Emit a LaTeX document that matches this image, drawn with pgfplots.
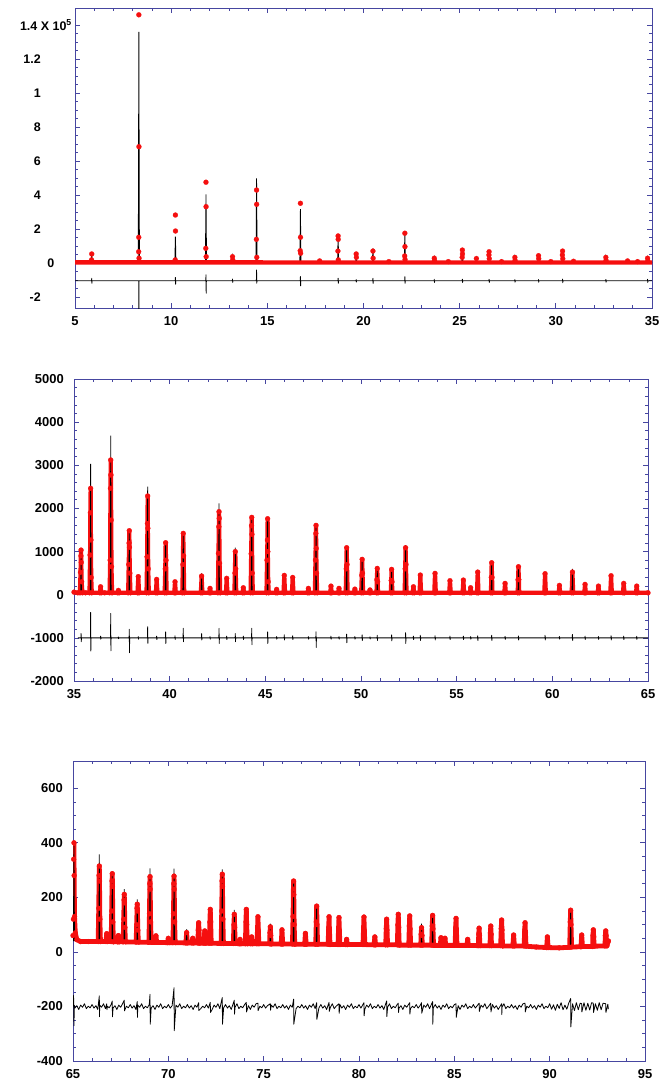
\documentclass[border=0pt]{standalone}
\usepackage{pgfplots}
\pgfplotsset{compat=1.18}
\usepackage{fontspec}
\setmainfont{Liberation Sans}
\definecolor{axblue}{RGB}{70,70,160}
\definecolor{obsred}{RGB}{245,15,15}
\pgfplotsset{
  rv/.style={
    scale only axis, anchor=south west,
    axis line style={axblue, line width=0.8bp},
    tick align=inside, major tick length=5bp, minor tick length=3bp,
    every tick/.style={axblue, line width=0.7bp},
    minor x tick num=4,
    tick label style={font=\fontsize{13}{13}\selectfont\bfseries},
    xticklabel style={anchor=north, inner sep=0pt, yshift=-8bp},
    yticklabel style={anchor=east, inner sep=0pt, xshift=-10bp},
    unbounded coords=jump,
  },
  obs/.style={obsred, line width=#1, line join=round, line cap=round, mark=*, mark size=2.5bp,
    mark options={fill=obsred, draw=obsred, line width=0.2bp}},
  calc/.style={black, line width=0.8bp},
  diff/.style={black, line width=0.8bp, line join=round},
}
\begin{document}
\begin{tikzpicture}
\useasboundingbox (0,0) rectangle (670bp,-1088bp);
% ---------------- Panel 1 : 5-35 ----------------
\begin{axis}[rv, at={(75bp,-308bp)}, width=577bp, height=300bp,
  xmin=5, xmax=35, ymin=-26500, ymax=150000,
  xtick={5,10,...,35}, xticklabels={5,10,15,20,25,30,35},
  ytick={-20000,0,20000,40000,60000,80000,100000,120000,140000},
  yticklabels={-2,0\hspace*{-21bp},2,4,6,8,1,1.2,{1.4 X 10\textsuperscript{5}\hspace*{-31bp}}},
  yticklabel style={xshift=-24bp, font=\fontsize{12.5}{12.5}\selectfont\bfseries},
  minor y tick num=3]
% calculated
\addplot[calc] coordinates {(5,300)(5.84,300)(5.87,5000)(5.90,300)(8.29,300)(8.32,136000)(8.35,300)(10.19,300)(10.22,15500)(10.25,300)(11.78,300)(11.81,40400)(11.84,300)(13.16,300)(13.19,3500)(13.22,300)(14.41,300)(14.44,49800)(14.47,300)(16.69,300)(16.72,31600)(16.75,300)(17.69,300)(17.72,1200)(17.75,300)(18.65,300)(18.68,16000)(18.71,300)(19.59,300)(19.62,5000)(19.65,300)(20.46,300)(20.49,8600)(20.52,300)(22.12,300)(22.15,18400)(22.18,300)(23.65,300)(23.68,2800)(23.71,300)(25.11,300)(25.14,8000)(25.17,300)(25.84,300)(25.87,2600)(25.90,300)(26.50,300)(26.53,6800)(26.56,300)(27.84,300)(27.87,3300)(27.90,300)(29.07,300)(29.10,4300)(29.13,300)(30.32,300)(30.35,7200)(30.38,300)(32.57,300)(32.60,3300)(32.63,300)(33.70,300)(33.73,1200)(33.76,300)(34.74,300)(34.77,2800)(34.80,300)(35,300)};
% observed background
\addplot[obsred, line width=4.4bp] coordinates {(5.0,350)(10,320)(15,300)(20,300)(25,280)(30,280)(35,270)};
% observed peak points
\addplot[only marks, mark=*, mark size=2.5bp, mark options={fill=obsred, draw=obsred, line width=0.2bp}] coordinates {
(5.86,1800)(5.87,5300)
(8.31,6600)(8.315,15100)(8.32,146000)(8.325,68400)(8.33,2800)
(10.21,1800)(10.22,28200)(10.225,18800)
(11.80,8600)(11.81,47500)(11.815,33100)(11.82,3700)
(13.19,3700)(13.20,1800)
(14.43,13900)(14.44,42900)(14.445,34500)(14.45,3300)
(16.71,7200)(16.72,35100)(16.725,15100)(16.73,5700)
(17.72,1200)
(18.67,7000)(18.68,15900)(18.685,13900)(18.69,1800)
(19.62,5300)(19.63,3300)
(20.49,7000)(20.50,2800)
(21.32,800)
(22.14,4100)(22.15,17500)(22.155,9600)(22.16,2000)
(23.68,2800)(23.69,1500)
(24.41,800)
(25.13,3300)(25.14,7600)(25.145,5300)
(25.87,2600)
(26.52,4700)(26.53,6600)(26.54,2500)
(27.18,800)
(27.87,3300)(27.88,1500)
(29.10,4300)(29.11,2500)
(29.74,800)
(30.34,4700)(30.35,7000)(30.36,2500)
(30.92,1000)
(32.60,3300)(32.61,1500)
(33.73,1200)
(34.25,800)
(34.77,2800)(34.78,1200)};
% difference
\addplot[diff] coordinates {(5,-10500)
(5.86,-10500)(5.87,-9000)(5.88,-12000)(5.89,-10500)
(8.31,-10500)(8.32,-32000)(8.33,-10500)
(10.21,-10500)(10.22,-8500)(10.23,-12500)(10.24,-10500)
(11.80,-10500)(11.81,-7000)(11.82,-17800)(11.83,-10500)
(13.18,-10500)(13.19,-9500)(13.20,-11500)(13.21,-10500)
(14.43,-10500)(14.44,-4100)(14.45,-11900)(14.46,-10500)
(16.71,-10500)(16.72,-8000)(16.73,-13500)(16.74,-10500)
(18.67,-10500)(18.68,-9000)(18.69,-12000)(18.70,-10500)
(19.61,-10500)(19.62,-9800)(19.63,-11200)(19.64,-10500)
(20.48,-10500)(20.49,-9000)(20.50,-12000)(20.51,-10500)
(22.14,-10500)(22.15,-8100)(22.16,-12000)(22.17,-10500)
(23.67,-10500)(23.68,-9600)(23.69,-11500)(23.70,-10500)
(25.13,-10500)(25.14,-9600)(25.15,-11500)(25.16,-10500)
(26.52,-10500)(26.53,-9600)(26.54,-11500)(26.55,-10500)
(27.86,-10500)(27.87,-9800)(27.88,-11300)(27.89,-10500)
(29.09,-10500)(29.10,-9700)(29.11,-11400)(29.12,-10500)
(30.34,-10500)(30.35,-9500)(30.36,-11600)(30.37,-10500)
(32.59,-10500)(32.60,-9700)(32.61,-11400)(32.62,-10500)
(34.76,-10500)(34.77,-9600)(34.78,-11500)(34.79,-10500)(35,-10500)};
\end{axis}
% ---------------- Panel 2 : 35-65 ----------------
\begin{axis}[rv, at={(74bp,-681bp)}, width=574bp, height=302bp,
  xmin=35, xmax=65, ymin=-2000, ymax=5000,
  xtick={35,40,...,65}, xticklabels={35,40,45,50,55,60,65},
  ytick={-2000,-1000,...,5000},
  yticklabels={-2000,-1000,0,1000,2000,3000,4000,5000},
  minor y tick num=4]
\addplot[obs=4.2bp] coordinates {
(35.00,60)(35.2,45)
(35.31,45)(35.34,520)(35.36,900)(35.37,1035)(35.38,750)(35.40,300)(35.44,45)(35.6,45)
(35.81,45)(35.84,920)(35.855,1900)(35.87,2466)(35.885,1270)(35.90,400)(35.93,45)
(36.35,45)(36.39,185)(36.43,45)(36.6,45)
(36.86,45)(36.89,800)(36.905,2466)(36.92,3123)(36.93,2775)(36.945,1730)(36.96,650)(36.99,45)
(37.28,45)(37.32,100)(37.36,45)
(37.83,45)(37.86,700)(37.88,1200)(37.89,1484)(37.90,1100)(37.92,500)(37.95,45)
(38.32,45)(38.36,420)(38.40,45)
(38.79,45)(38.82,880)(38.84,1650)(38.85,2288)(38.86,1540)(38.88,600)(38.91,45)
(39.28,45)(39.32,356)(39.36,45)
(39.74,45)(39.77,600)(39.79,1206)(39.81,800)(39.84,45)
(40.24,45)(40.28,300)(40.32,45)
(40.66,45)(40.69,700)(40.71,1422)(40.73,900)(40.76,45)
(41.63,45)(41.67,433)(41.71,45)
(42.07,45)(42.11,147)(42.15,45)
(42.52,45)(42.55,960)(42.57,1577)(42.58,1925)(42.59,1770)(42.61,730)(42.64,45)
(42.94,45)(42.98,380)(43.02,45)
(43.38,45)(43.41,500)(43.43,1000)(43.45,600)(43.48,45)
(43.81,45)(43.85,162)(43.89,45)
(44.23,45)(44.26,950)(44.28,1600)(44.29,1793)(44.30,1400)(44.32,500)(44.35,45)
(45.06,45)(45.09,800)(45.11,1268)(45.12,1762)(45.13,1000)(45.15,300)(45.18,45)
(45.55,45)(45.59,124)(45.63,45)
(45.95,45)(45.99,448)(46.03,45)
(46.39,45)(46.43,400)(46.47,45)
(47.21,45)(47.25,147)(47.29,45)
(47.59,45)(47.62,804)(47.64,1422)(47.65,1608)(47.66,1075)(47.68,500)(47.71,45)
(48.39,45)(48.43,200)(48.47,45)
(48.81,45)(48.85,147)(48.89,45)
(49.20,45)(49.23,600)(49.25,1090)(49.27,700)(49.30,45)
(49.64,45)(49.68,130)(49.72,45)
(50.01,45)(50.04,450)(50.06,820)(50.08,500)(50.11,45)
(50.43,45)(50.47,110)(50.51,45)
(50.81,45)(50.83,350)(50.85,610)(50.87,300)(50.89,45)
(51.56,45)(51.58,330)(51.60,588)(51.62,300)(51.64,45)
(52.28,45)(52.31,600)(52.33,1090)(52.35,700)(52.38,45)
(52.70,45)(52.74,185)(52.78,45)
(53.06,45)(53.10,456)(53.14,45)
(53.83,45)(53.87,495)(53.91,45)
(54.61,45)(54.65,325)(54.69,45)
(55.31,45)(55.35,340)(55.39,45)
(55.69,45)(55.73,162)(55.77,45)
(56.06,45)(56.10,525)(56.14,45)
(56.79,45)(56.81,400)(56.83,742)(56.85,400)(56.87,45)
(57.49,45)(57.53,263)(57.57,45)
(58.19,45)(58.21,350)(58.23,650)(58.25,350)(58.27,45)
(59.58,45)(59.62,487)(59.66,45)
(60.33,45)(60.37,216)(60.41,45)
(61.01,45)(61.05,525)(61.09,45)
(61.67,45)(61.71,240)(61.75,45)
(62.37,45)(62.41,200)(62.45,45)
(63.03,45)(63.07,440)(63.11,45)
(63.69,45)(63.73,263)(63.77,45)
(64.37,45)(64.41,200)(64.45,45)(65.0,45)};
\addplot[calc] coordinates {
(35.35,45)(35.37,1000)(35.39,45)(35.39,nan)
(35.85,45)(35.87,3030)(35.89,45)(35.89,nan)
(36.90,45)(36.92,3687)(36.94,45)(36.94,nan)
(37.87,45)(37.89,1480)(37.91,45)(37.91,nan)
(38.83,45)(38.85,2505)(38.87,45)(38.87,nan)
(39.77,45)(39.79,1180)(39.81,45)(39.81,nan)
(40.69,45)(40.71,1430)(40.73,45)(40.73,nan)
(41.65,45)(41.67,495)(41.69,45)(41.69,nan)
(42.56,45)(42.58,2118)(42.60,45)(42.60,nan)
(43.41,45)(43.43,1090)(43.45,45)(43.45,nan)
(44.27,45)(44.29,1800)(44.31,45)(44.31,nan)
(45.10,45)(45.12,1780)(45.14,45)(45.14,nan)
(47.63,45)(47.65,1600)(47.67,45)(47.67,nan)
(49.23,45)(49.25,1100)(49.27,45)(49.27,nan)
(50.04,45)(50.06,830)(50.08,45)(50.08,nan)
(50.83,45)(50.85,620)(50.87,45)(50.87,nan)
(51.58,45)(51.60,600)(51.62,45)(51.62,nan)
(52.31,45)(52.33,1150)(52.35,45)(52.35,nan)
(56.81,45)(56.83,740)(56.85,45)(56.85,nan)
(58.21,45)(58.23,650)(58.25,45)(58.25,nan)
(61.03,45)(61.05,600)(61.07,45)};
\addplot[diff] coordinates {(35.2,-1000)
(35.36,-1000)(35.37,-897)(35.38,-1090)(35.39,-1000)
(35.86,-1000)(35.87,-410)(35.88,-1306)(35.89,-1000)
(36.38,-1000)(36.39,-960)(36.40,-1030)(36.41,-1000)
(36.91,-1000)(36.92,-433)(36.93,-1300)(36.94,-1000)
(37.31,-1000)(37.32,-980)(37.33,-1020)(37.34,-1000)
(37.88,-1000)(37.89,-800)(37.90,-1345)(37.91,-1000)
(38.35,-1000)(38.36,-970)(38.37,-1030)(38.38,-1000)
(38.84,-1000)(38.85,-742)(38.86,-1125)(38.87,-1000)
(39.31,-1000)(39.32,-960)(39.33,-1040)(39.34,-1000)
(39.78,-1000)(39.79,-860)(39.80,-1130)(39.81,-1000)
(40.27,-1000)(40.28,-950)(40.29,-1040)(40.30,-1000)
(40.70,-1000)(40.71,-780)(40.72,-1090)(40.73,-1000)
(41.66,-1000)(41.67,-900)(41.68,-1050)(41.69,-1000)
(42.10,-1000)(42.11,-970)(42.12,-1030)(42.13,-1000)
(42.57,-1000)(42.58,-780)(42.59,-1130)(42.60,-1000)
(42.97,-1000)(42.98,-960)(42.99,-1040)(43.00,-1000)
(43.42,-1000)(43.43,-900)(43.44,-1090)(43.45,-1000)
(43.84,-1000)(43.85,-960)(43.86,-1040)(43.87,-1000)
(44.28,-1000)(44.29,-780)(44.30,-1160)(44.31,-1000)
(45.11,-1000)(45.12,-860)(45.13,-1130)(45.14,-1000)
(45.58,-1000)(45.59,-970)(45.60,-1030)(45.61,-1000)
(45.98,-1000)(45.99,-930)(46.00,-1050)(46.01,-1000)
(46.42,-1000)(46.43,-950)(46.44,-1040)(46.45,-1000)
(47.24,-1000)(47.25,-970)(47.26,-1030)(47.27,-1000)
(47.64,-1000)(47.65,-858)(47.66,-1221)(47.67,-1000)
(48.42,-1000)(48.43,-960)(48.44,-1030)(48.45,-1000)
(48.84,-1000)(48.85,-970)(48.86,-1030)(48.87,-1000)
(49.24,-1000)(49.25,-912)(49.26,-1113)(49.27,-1000)
(49.67,-1000)(49.68,-970)(49.69,-1030)(49.70,-1000)
(50.05,-1000)(50.06,-930)(50.07,-1060)(50.08,-1000)
(50.46,-1000)(50.47,-975)(50.48,-1025)(50.49,-1000)
(50.84,-1000)(50.85,-940)(50.86,-1060)(50.87,-1000)
(51.59,-1000)(51.60,-930)(51.61,-1070)(51.62,-1000)
(52.32,-1000)(52.33,-880)(52.34,-1130)(52.35,-1000)
(52.73,-1000)(52.74,-960)(52.75,-1040)(52.76,-1000)
(53.09,-1000)(53.10,-940)(53.11,-1060)(53.12,-1000)
(53.86,-1000)(53.87,-950)(53.88,-1050)(53.89,-1000)
(54.64,-1000)(54.65,-960)(54.66,-1040)(54.67,-1000)
(55.34,-1000)(55.35,-960)(55.36,-1040)(55.37,-1000)
(55.72,-1000)(55.73,-970)(55.74,-1030)(55.75,-1000)
(56.09,-1000)(56.10,-950)(56.11,-1060)(56.12,-1000)
(56.82,-1000)(56.83,-940)(56.84,-1060)(56.85,-1000)
(57.52,-1000)(57.53,-965)(57.54,-1035)(57.55,-1000)
(58.22,-1000)(58.23,-955)(58.24,-1050)(58.25,-1000)
(59.61,-1000)(59.62,-940)(59.63,-1050)(59.64,-1000)
(60.36,-1000)(60.37,-970)(60.38,-1030)(60.39,-1000)
(61.04,-1000)(61.05,-920)(61.06,-1060)(61.07,-1000)
(61.70,-1000)(61.71,-960)(61.72,-1040)(61.73,-1000)
(62.40,-1000)(62.41,-970)(62.42,-1035)(62.43,-1000)
(63.06,-1000)(63.07,-950)(63.08,-1050)(63.09,-1000)
(63.72,-1000)(63.73,-960)(63.74,-1040)(63.75,-1000)
(64.40,-1000)(64.41,-965)(64.42,-1035)(64.43,-1000)(65,-1000)};
\end{axis}
% ---------------- Panel 3 : 65-95 ----------------
\begin{axis}[rv, at={(73bp,-1061bp)}, width=572bp, height=300bp,
  xmin=65, xmax=95, ymin=-400, ymax=700,
  xtick={65,70,...,95}, xticklabels={65,70,75,80,85,90,95},
  ytick={-400,-200,...,600},
  yticklabels={-400,-200,0,200,400,600},
  minor y tick num=3]
\addplot[obs=4.8bp] coordinates {
(65.00,60)(65.02,120)(65.035,340)(65.05,400)(65.06,280)(65.08,130)(65.12,70)(65.2,45)(65.4,38)(65.8,38)
(66.32,38)(66.35,160)(66.37,280)(66.38,315)(66.39,260)(66.41,120)(66.44,38)
(66.73,38)(66.77,67)(66.81,38)
(67.00,38)(67.03,150)(67.05,260)(67.06,287)(67.07,240)(67.09,110)(67.12,37)
(67.34,37)(67.38,60)(67.42,37)
(67.63,37)(67.66,120)(67.68,190)(67.69,211)(67.70,180)(67.72,90)(67.75,37)
(68.31,36)(68.34,100)(68.36,160)(68.37,175)(68.38,150)(68.40,80)(68.43,36)
(68.98,35)(69.01,140)(69.03,250)(69.04,276)(69.05,230)(69.07,110)(69.10,35)
(69.31,35)(69.35,59)(69.39,35)
(69.96,34)(70.00,50)(70.04,34)
(70.24,34)(70.27,140)(70.29,250)(70.30,278)(70.31,230)(70.33,110)(70.36,34)
(70.92,33)(70.96,71)(71.00,33)
(71.24,33)(71.28,50)(71.32,33)
(71.55,33)(71.57,80)(71.59,107)(71.61,80)(71.63,32)
(71.87,32)(71.91,77)(71.95,32)
(72.15,32)(72.18,110)(72.20,156)(72.22,110)(72.25,32)
(72.77,31)(72.80,150)(72.82,260)(72.83,285)(72.84,240)(72.86,120)(72.89,31)
(73.41,31)(73.44,100)(73.46,138)(73.48,90)(73.51,31)
(73.72,30)(73.76,46)(73.80,30)
(74.04,30)(74.07,110)(74.09,156)(74.11,100)(74.14,30)
(74.33,30)(74.37,55)(74.41,30)
(74.65,30)(74.68,90)(74.70,129)(74.72,80)(74.75,30)
(75.31,30)(75.33,70)(75.35,92)(75.37,60)(75.39,29)
(75.92,29)(75.96,81)(76.00,29)
(76.51,29)(76.54,130)(76.56,230)(76.57,260)(76.58,210)(76.60,100)(76.63,28)
(77.15,28)(77.19,68)(77.23,28)
(77.73,28)(77.76,110)(77.78,168)(77.80,100)(77.83,28)
(78.38,28)(78.41,90)(78.43,129)(78.45,80)(78.48,27)
(78.90,27)(78.93,90)(78.95,126)(78.97,80)(79.00,27)
(79.31,27)(79.35,46)(79.39,27)
(80.21,27)(80.24,90)(80.26,128)(80.28,80)(80.31,27)
(80.79,26)(80.83,55)(80.87,26)
(81.40,26)(81.43,85)(81.45,120)(81.47,80)(81.50,26)
(82.01,26)(82.04,100)(82.06,138)(82.08,90)(82.11,25)
(82.61,25)(82.64,95)(82.66,132)(82.68,85)(82.71,25)
(83.24,25)(83.26,65)(83.28,89)(83.30,60)(83.32,25)
(83.81,25)(83.84,95)(83.86,134)(83.88,85)(83.91,24)
(84.26,24)(84.30,52)(84.34,24)(84.47,24)(84.51,50)(84.55,24)
(85.04,24)(85.07,90)(85.09,123)(85.11,80)(85.14,24)
(85.66,24)(85.70,46)(85.74,24)
(86.26,23)(86.28,65)(86.30,87)(86.32,60)(86.34,23)
(86.87,23)(86.89,70)(86.91,95)(86.93,65)(86.95,23)
(87.43,23)(87.46,85)(87.48,117)(87.50,80)(87.53,22)
(88.07,22)(88.11,62)(88.15,22)
(88.66,22)(88.69,80)(88.71,107)(88.73,70)(88.76,21)
(89.3,18)(89.84,16)(89.88,55)(89.92,16)(90.5,15)
(91.05,17)(91.08,110)(91.10,153)(91.12,100)(91.15,18)
(91.64,19)(91.68,62)(91.72,20)
(92.25,20)(92.27,60)(92.29,81)(92.31,55)(92.33,21)
(92.90,22)(92.92,60)(92.94,77)(92.96,60)(93.00,22)(93.08,40)};
\addplot[calc] coordinates {
(65.02,40)(65.05,390)(65.08,40)(65.08,nan)
(66.36,38)(66.38,358)(66.40,38)(66.40,nan)
(67.04,38)(67.06,295)(67.08,38)(67.08,nan)
(67.67,37)(67.69,230)(67.71,37)(67.71,nan)
(68.35,36)(68.37,193)(68.39,36)(68.39,nan)
(69.02,35)(69.04,306)(69.06,35)(69.06,nan)
(70.28,34)(70.30,305)(70.32,34)(70.32,nan)
(70.94,33)(70.96,83)(70.98,33)(70.98,nan)
(72.81,31)(72.83,303)(72.85,31)(72.85,nan)
(73.44,31)(73.46,154)(73.48,31)(73.48,nan)
(75.33,30)(75.35,104)(75.37,30)(75.37,nan)
(76.55,29)(76.57,255)(76.59,29)(76.59,nan)
(77.76,28)(77.78,170)(77.80,28)(77.80,nan)
(83.26,25)(83.28,104)(83.30,25)(83.30,nan)
(83.84,25)(83.86,140)(83.88,25)(83.88,nan)
(91.08,17)(91.10,160)(91.12,17)};
\addplot[diff] coordinates {
(65.00,-200)(65.03,-160)(65.05,-271)(65.07,-196)(65.1,-206)(65.2,-197)(65.3,-211)(65.4,-195)(65.5,-203)(65.6,-190)(65.7,-208)(65.8,-199)(65.9,-205)
(66.0,-193)(66.1,-206)(66.2,-197)(66.3,-211)(66.38,-161)(66.39,-238)(66.4,-195)(66.5,-203)(66.6,-190)(66.7,-208)(66.77,-190)(66.78,-212)(66.8,-199)(66.9,-205)
(67.0,-193)(67.06,-180)(67.07,-238)(67.1,-206)(67.2,-197)(67.3,-211)(67.4,-195)(67.5,-203)(67.6,-190)(67.69,-177)(67.70,-216)(67.8,-199)(67.9,-205)
(68.0,-193)(68.1,-206)(68.2,-197)(68.3,-211)(68.37,-182)(68.38,-240)(68.4,-195)(68.5,-203)(68.6,-190)(68.7,-208)(68.8,-199)(68.9,-205)
(69.0,-193)(69.04,-155)(69.05,-265)(69.1,-206)(69.2,-197)(69.3,-211)(69.4,-195)(69.5,-203)(69.6,-190)(69.7,-208)(69.8,-199)(69.9,-205)
(70.0,-193)(70.1,-206)(70.2,-197)(70.30,-131)(70.31,-289)(70.4,-195)(70.5,-203)(70.6,-190)(70.7,-208)(70.8,-199)(70.9,-205)
(71.0,-193)(71.1,-206)(71.2,-197)(71.3,-211)(71.4,-195)(71.5,-203)(71.59,-186)(71.60,-215)(71.7,-208)(71.8,-199)(71.9,-205)
(72.0,-193)(72.1,-206)(72.20,-185)(72.21,-222)(72.3,-211)(72.4,-195)(72.5,-203)(72.6,-190)(72.7,-208)(72.83,-167)(72.84,-265)(72.9,-205)
(73.0,-193)(73.1,-206)(73.2,-197)(73.3,-211)(73.46,-177)(73.47,-228)(73.5,-203)(73.6,-190)(73.7,-208)(73.8,-199)(73.9,-205)
(74.0,-193)(74.09,-185)(74.10,-220)(74.2,-197)(74.3,-211)(74.4,-195)(74.5,-203)(74.6,-190)(74.70,-188)(74.71,-215)(74.8,-199)(74.9,-205)
(75.0,-193)(75.1,-206)(75.2,-197)(75.35,-190)(75.36,-214)(75.4,-195)(75.5,-203)(75.6,-190)(75.7,-208)(75.8,-199)(75.9,-205)
(76.0,-193)(76.1,-206)(76.2,-197)(76.3,-211)(76.4,-195)(76.5,-203)(76.57,-173)(76.58,-265)(76.7,-208)(76.8,-199)(76.9,-205)
(77.0,-193)(77.1,-206)(77.2,-197)(77.3,-211)(77.4,-195)(77.5,-203)(77.6,-190)(77.7,-208)(77.78,-186)(77.79,-247)(77.9,-205)
(78.0,-193)(78.1,-206)(78.2,-197)(78.3,-211)(78.43,-185)(78.44,-218)(78.5,-203)(78.6,-190)(78.7,-208)(78.8,-199)(78.95,-190)(78.96,-225)
(79.0,-193)(79.1,-206)(79.2,-197)(79.3,-211)(79.4,-195)(79.5,-203)(79.6,-190)(79.7,-208)(79.8,-199)(79.9,-205)
(80.0,-193)(80.1,-206)(80.26,-186)(80.27,-234)(80.3,-211)(80.4,-195)(80.5,-203)(80.6,-190)(80.7,-208)(80.8,-199)(80.9,-205)
(81.0,-193)(81.1,-206)(81.2,-197)(81.3,-211)(81.45,-180)(81.46,-237)(81.5,-203)(81.6,-190)(81.7,-208)(81.8,-199)(81.9,-205)
(82.0,-193)(82.06,-188)(82.07,-222)(82.1,-206)(82.2,-197)(82.3,-211)(82.4,-195)(82.5,-203)(82.66,-186)(82.67,-228)(82.7,-208)(82.8,-199)(82.9,-205)
(83.0,-193)(83.1,-206)(83.2,-197)(83.28,-186)(83.29,-225)(83.4,-195)(83.5,-203)(83.6,-190)(83.7,-208)(83.86,-182)(83.87,-265)(83.9,-205)
(84.0,-193)(84.1,-206)(84.2,-197)(84.3,-211)(84.4,-195)(84.5,-203)(84.6,-190)(84.7,-208)(84.8,-199)(84.9,-205)
(85.0,-193)(85.09,-190)(85.10,-240)(85.2,-197)(85.3,-211)(85.4,-195)(85.5,-203)(85.6,-190)(85.7,-208)(85.8,-199)(85.9,-205)
(86.0,-193)(86.1,-206)(86.2,-197)(86.30,-188)(86.31,-218)(86.4,-195)(86.5,-203)(86.6,-190)(86.7,-208)(86.8,-199)(86.91,-188)(86.92,-220)
(87.0,-193)(87.1,-206)(87.2,-197)(87.3,-211)(87.48,-190)(87.49,-230)(87.5,-203)(87.6,-190)(87.7,-208)(87.8,-199)(87.9,-205)
(88.0,-193)(88.1,-206)(88.2,-197)(88.3,-211)(88.4,-195)(88.5,-203)(88.6,-190)(88.71,-188)(88.72,-220)(88.8,-199)(88.9,-205)
(89.0,-193)(89.1,-206)(89.2,-197)(89.3,-211)(89.4,-195)(89.5,-203)(89.6,-190)(89.7,-208)(89.8,-199)(89.9,-205)
(90.0,-190)(90.1,-210)(90.2,-194)(90.3,-214)(90.4,-192)(90.5,-207)(90.6,-186)(90.7,-212)(90.8,-195)(90.9,-210)
(91.0,-188)(91.10,-171)(91.11,-275)(91.2,-190)(91.3,-215)(91.4,-186)(91.5,-212)(91.6,-188)(91.68,-190)(91.69,-220)(91.8,-186)(91.9,-214)
(92.0,-188)(92.1,-213)(92.2,-186)(92.29,-188)(92.30,-222)(92.4,-190)(92.5,-214)(92.6,-186)(92.7,-212)(92.8,-188)(92.94,-190)(92.95,-222)(93.05,-192)(93.08,-210)};
\end{axis}
\end{tikzpicture}
\end{document}
